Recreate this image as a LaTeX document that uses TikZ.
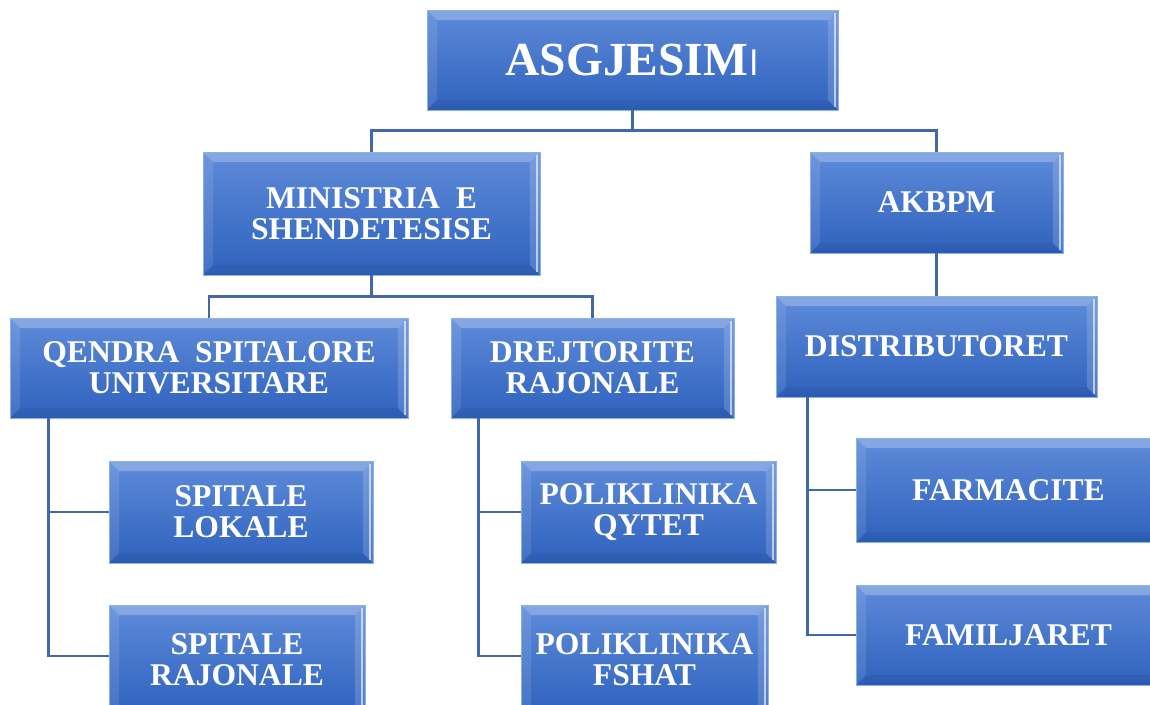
\documentclass[tikz,border=0pt]{standalone}
\usepackage{fontspec}
\setmainfont{Liberation Serif}
\usetikzlibrary{calc}
\definecolor{boxtop}{RGB}{94,139,217}
\definecolor{boxbot}{RGB}{47,98,190}
\definecolor{boxedge}{RGB}{140,176,234}
\definecolor{linkblue}{RGB}{66,103,170}
\tikzset{
  bevelbox/.style={rectangle,draw=boxedge,line width=0.5pt,top color=boxtop,bottom color=boxbot,
    text=white,align=center,inner sep=0pt,font=\fontsize{18}{17.6}\selectfont\bfseries,
    path picture={
      \path (path picture bounding box.south west) coordinate (pbl)
            (path picture bounding box.north east) coordinate (ptr)
            (pbl|-ptr) coordinate (ptl) (pbl-|ptr) coordinate (pbr);
      \fill[white,opacity=0.25] (ptl) -- (ptr) -- ($(ptr)+(-0.2cm,-0.2cm)$) -- ($(ptl)+(0.2cm,-0.2cm)$) -- cycle;
      \fill[white,opacity=0.10] (ptl) -- ($(ptl)+(0.2cm,-0.2cm)$) -- ($(pbl)+(0.2cm,0.2cm)$) -- (pbl) -- cycle;
      \fill[white,opacity=0.16] (ptr) -- (pbr) -- ($(pbr)+(-0.2cm,0.2cm)$) -- ($(ptr)+(-0.2cm,-0.2cm)$) -- cycle;
      \fill[black,opacity=0.06] (pbl) -- (pbr) -- ($(pbr)+(-0.2cm,0.2cm)$) -- ($(pbl)+(0.2cm,0.2cm)$) -- cycle;
      \draw[white,opacity=0.6,line width=1pt] ($(ptr)+(-0.06cm,-0.06cm)$) -- ($(pbr)+(-0.06cm,0.06cm)$);
    }},
  boxsize/.style 2 args={minimum width=#1cm,minimum height=#2cm},
  link/.style={draw=linkblue,line width=1.4pt},
}
\begin{document}
\begin{tikzpicture}[x=0.02cm,y=-0.02cm]
  \useasboundingbox (0,0) rectangle (1150,704);
  % top level
  \node[bevelbox,boxsize={8.22}{2.0},font=\fontsize{27}{27}\selectfont\bfseries] (asg) at (632.5,60)
    {ASGJESIM\kern1pt{\mdseries\sffamily\fontsize{21}{21}\selectfont I}};
  \node[bevelbox,boxsize={6.74}{2.46}] (min) at (371.5,213.5) {MINISTRIA~ E\\SHENDETESISE};
  \node[bevelbox,boxsize={5.06}{2.02}] (akb) at (936.5,202.5) {AKBPM};
  % second level
  \node[bevelbox,boxsize={7.96}{2.0}] (qsu) at (209,368) {QENDRA~ SPITALORE\\UNIVERSITARE};
  \node[bevelbox,boxsize={5.66}{2.0}] (drj) at (592.5,368) {DREJTORITE\\RAJONALE};
  \node[bevelbox,boxsize={6.42}{2.02}] (dst) at (936.5,346.5) {DISTRIBUTORET};
  % third level
  \node[bevelbox,boxsize={5.28}{2.04}] (spl) at (241,512) {SPITALE\\LOKALE};
  \node[bevelbox,boxsize={5.12}{2.2}] (spr) at (237,660) {SPITALE\\RAJONALE};
  \node[bevelbox,boxsize={5.1}{2.04}] (pqy) at (648.5,512) {POLIKLINIKA\\QYTET};
  \node[bevelbox,boxsize={4.94}{2.2}] (pfs) at (644.5,660) {POLIKLINIKA\\FSHAT};
  \node[bevelbox,boxsize={6.1}{2.08}] (frm) at (1008.5,490) {FARMACITE};
  \node[bevelbox,boxsize={6.1}{2.0}] (fam) at (1008.5,635) {FAMILJARET};
  % connectors
  \draw[link] (asg.south) -- ++(0,20) -| (min.north);
  \draw[link] (asg.south) -- ++(0,20) -| (akb.north);
  \draw[link] (min.south) -- ++(0,21) -| (qsu.north);
  \draw[link] (min.south) -- ++(0,21) -| (drj.north);
  \draw[link] (akb.south) -- (dst.north);
  \draw[link] ([xshift=0.78cm]qsu.south west) |- ([yshift=0.08cm]spr.west);
  \draw[link] ([xshift=0.78cm]qsu.south west) |- (spl.west);
  \draw[link] ([xshift=0.56cm]drj.south west) |- (pqy.west);
  \draw[link] ([xshift=0.56cm]drj.south west) |- ([yshift=0.08cm]pfs.west);
  \draw[link] ([xshift=0.64cm]dst.south west) |- (frm.west);
  \draw[link] ([xshift=0.64cm]dst.south west) |- (fam.west);
\end{tikzpicture}
\end{document}
